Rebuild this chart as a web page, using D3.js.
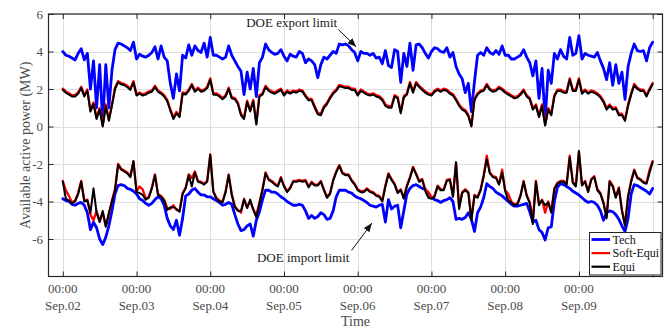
<!DOCTYPE html>
<html>
<head>
<meta charset="utf-8">
<script src="https://cdn.jsdelivr.net/npm/d3@7"></script>
<style>
  html, body { margin: 0; padding: 0; background: #fff; }
  svg { display: block; font-family: "Liberation Serif", "Times New Roman", serif; }
</style>
</head>
<body>
<svg id="chart" width="669" height="329"></svg>
<script>
// Hourly samples, Sep.02 00:00 .. Sep.10 00:00 (193 points per series), MW
const dayLabels = ["Sep.02", "Sep.03", "Sep.04", "Sep.05", "Sep.06", "Sep.07", "Sep.08", "Sep.09", ""];
const timeLabel = "00:00";
const yTicks = [-6, -4, -2, 0, 2, 4, 6];
const seriesNames = ["Tech", "Soft-Equi", "Equi"];
const seriesColors = ["#0000ff", "#ff0000", "#000000"];

// export limits (upper band)
const techExport = [
  4.0,3.8,3.75,3.65,3.55,3.9,4.15,3.55,3.9,2.0,3.5,1.0,3.3,0.2,3.3,1.0,3.0,4.1,4.45,4.4,4.3,4.2,4.05,4.5,
  3.6,3.85,3.75,3.7,3.8,3.95,4.25,3.6,4.3,3.7,3.5,2.3,1.5,2.8,1.9,3.8,3.65,4.35,3.8,4.3,4.05,3.95,4.45,3.7,
  4.75,3.8,3.8,3.7,3.6,3.7,4.3,3.8,3.5,3.2,2.95,1.7,2.9,2.0,3.1,1.6,3.4,3.7,4.4,4.1,3.95,3.85,3.9,4.1,
  3.75,3.5,3.85,3.75,3.7,4.0,3.9,3.4,3.6,3.5,3.3,2.6,3.3,3.7,3.6,3.8,4.0,3.9,4.4,4.35,4.4,4.3,4.1,3.95,
  3.5,4.0,3.9,3.9,3.8,3.9,3.65,3.7,3.35,4.05,3.25,3.15,4.1,4.0,2.35,3.9,3.2,4.45,3.0,4.35,4.4,4.2,3.9,3.65,
  4.0,4.2,4.15,4.0,3.95,4.2,3.7,3.95,3.2,2.8,2.55,1.8,2.3,0.8,2.4,3.8,3.95,3.8,4.2,3.95,3.85,4.05,3.85,4.3,
  3.8,3.8,3.6,3.6,3.7,3.8,4.1,3.7,3.4,2.7,3.5,1.5,3.1,0.3,3.0,2.3,3.9,3.6,4.1,3.75,3.6,4.75,3.8,3.9,
  4.85,3.6,3.9,3.8,3.75,3.7,3.95,3.5,3.1,2.5,3.4,2.2,3.3,2.3,2.9,1.45,3.2,3.9,4.4,4.05,4.0,4.05,3.5,4.2,
  4.5
];
const softExport = [
  2.02,1.87,1.77,1.67,1.67,1.82,2.12,1.67,1.97,0.88,1.28,0.48,0.98,0.06,1.18,0.38,1.18,2.07,2.42,2.32,2.27,2.17,2.02,2.42,
  1.72,1.82,1.72,1.77,1.87,1.92,2.17,1.92,1.82,1.67,1.42,0.92,0.48,0.78,0.58,1.82,1.77,1.97,2.27,1.92,2.07,1.92,1.97,2.12,
  2.57,1.77,1.77,1.67,1.52,1.67,2.07,1.57,1.52,1.27,0.68,0.48,1.38,0.88,1.42,0.18,1.67,1.77,2.17,1.97,1.87,1.82,1.92,2.02,
  1.72,1.92,1.82,1.92,1.87,1.97,1.92,1.67,1.47,1.47,1.08,0.73,0.68,1.08,1.27,1.57,1.82,1.97,2.22,2.17,2.12,2.12,2.02,2.02,
  1.72,1.97,1.87,1.77,1.72,1.77,1.67,1.62,1.47,1.18,1.08,1.08,1.67,1.57,0.78,1.62,1.77,2.37,1.87,2.37,2.17,2.02,1.87,1.77,
  1.72,1.92,2.02,1.92,2.02,1.97,1.82,1.72,1.47,1.18,0.98,0.88,0.63,0.05,1.47,1.77,1.92,1.97,2.27,2.02,1.92,1.97,2.12,2.02,
  1.87,1.77,1.67,1.57,1.62,1.77,1.97,1.67,1.52,0.98,1.18,0.58,1.18,0.1,0.98,0.68,1.67,1.97,1.97,1.87,1.87,2.57,1.97,1.97,
  2.57,1.82,1.97,1.82,1.92,1.87,1.77,1.62,1.38,0.98,1.18,0.98,1.02,0.68,0.68,0.38,1.18,1.77,2.27,2.07,1.97,1.97,1.67,2.02,
  2.32
];
const equiExport = [
  1.95,1.8,1.7,1.6,1.6,1.75,2.05,1.6,1.9,0.8,1.2,0.4,0.9,0.0,1.1,0.3,1.1,2.0,2.35,2.25,2.2,2.1,1.95,2.35,
  1.65,1.75,1.65,1.7,1.8,1.85,2.1,1.85,1.75,1.6,1.35,0.85,0.4,0.7,0.5,1.75,1.7,1.9,2.2,1.85,2.0,1.85,1.9,2.05,
  2.5,1.7,1.7,1.6,1.45,1.6,2.0,1.5,1.45,1.2,0.6,0.4,1.3,0.8,1.35,0.1,1.6,1.7,2.1,1.9,1.8,1.75,1.85,1.95,
  1.65,1.85,1.75,1.85,1.8,1.9,1.85,1.6,1.4,1.4,1.0,0.65,0.6,1.0,1.2,1.5,1.75,1.9,2.15,2.1,2.05,2.05,1.95,1.95,
  1.65,1.9,1.8,1.7,1.65,1.7,1.6,1.55,1.4,1.1,1.0,1.0,1.6,1.5,0.7,1.55,1.7,2.3,1.8,2.3,2.1,1.95,1.8,1.7,
  1.65,1.85,1.95,1.85,1.95,1.9,1.75,1.65,1.4,1.1,0.9,0.8,0.55,0.0,1.4,1.7,1.85,1.9,2.2,1.95,1.85,1.9,2.05,1.95,
  1.8,1.7,1.6,1.5,1.55,1.7,1.9,1.6,1.45,0.9,1.1,0.5,1.1,0.05,0.9,0.6,1.6,1.9,1.9,1.8,1.8,2.5,1.9,1.9,
  2.5,1.75,1.9,1.75,1.85,1.8,1.7,1.55,1.3,0.9,1.1,0.9,0.95,0.6,0.6,0.3,1.1,1.7,2.2,2.0,1.9,1.9,1.6,1.95,
  2.25
];

// import limits (lower band)
const techImport = [
  -3.85,-3.95,-4.0,-4.15,-4.2,-4.1,-4.05,-4.2,-4.6,-5.5,-5.1,-5.4,-6.0,-6.3,-5.9,-5.3,-4.5,-3.6,-3.15,-3.1,-3.15,-3.3,-3.35,-3.45,
  -3.6,-3.85,-3.95,-4.1,-4.2,-4.1,-3.9,-3.75,-3.85,-4.2,-4.9,-5.3,-5.5,-5.0,-5.8,-4.9,-3.7,-3.6,-3.4,-3.3,-3.5,-3.65,-3.65,-3.75,
  -3.75,-3.85,-3.95,-4.05,-4.2,-4.15,-4.05,-4.15,-4.7,-5.2,-5.55,-5.5,-5.3,-5.2,-5.85,-5.0,-4.55,-3.9,-3.4,-3.4,-3.5,-3.5,-3.6,-3.75,
  -3.85,-4.0,-4.1,-4.2,-4.2,-4.15,-4.2,-4.5,-4.9,-4.75,-4.9,-4.8,-4.6,-4.7,-4.95,-4.9,-4.5,-3.75,-3.4,-3.4,-3.4,-3.5,-3.55,-3.7,
  -3.8,-3.85,-3.95,-4.05,-4.2,-4.25,-4.3,-4.2,-4.15,-5.1,-3.9,-4.4,-4.25,-4.2,-5.4,-4.5,-3.6,-3.3,-3.15,-3.1,-3.2,-3.3,-3.35,-3.55,
  -3.8,-3.9,-3.95,-4.05,-3.95,-3.9,-3.8,-4.0,-4.95,-4.9,-4.95,-4.85,-4.6,-4.95,-5.6,-4.6,-4.3,-3.8,-3.05,-3.2,-3.3,-3.5,-3.6,-3.7,
  -3.85,-4.0,-4.15,-4.25,-4.25,-4.2,-4.15,-4.1,-4.55,-5.1,-5.0,-5.5,-5.65,-6.05,-5.4,-5.35,-4.0,-3.25,-3.05,-3.1,-3.2,-3.3,-3.45,-3.55,
  -3.65,-3.8,-3.95,-4.05,-4.0,-4.05,-4.2,-4.5,-5.0,-4.6,-4.5,-4.55,-4.7,-4.95,-5.3,-5.6,-4.9,-3.6,-3.1,-3.15,-3.25,-3.35,-3.45,-3.6,
  -3.3
];
const softImport = [
  -2.9,-3.4,-3.7,-4.05,-3.95,-3.55,-2.9,-3.95,-3.9,-4.7,-5.0,-4.5,-5.05,-4.6,-5.3,-4.7,-3.95,-3.35,-2.0,-2.25,-2.35,-2.45,-2.65,-1.85,
  -3.45,-3.2,-3.35,-3.85,-3.75,-3.25,-2.55,-3.6,-3.7,-3.9,-4.35,-4.4,-4.2,-4.45,-4.5,-3.55,-3.25,-2.55,-2.75,-2.4,-2.9,-2.95,-3.05,-2.9,
  -1.5,-3.45,-3.8,-3.95,-4.0,-3.45,-2.55,-3.6,-4.25,-4.45,-4.6,-3.85,-4.3,-4.0,-4.4,-4.75,-4.05,-3.35,-2.45,-2.8,-2.9,-3.05,-3.15,-2.7,
  -3.15,-3.45,-3.25,-2.9,-2.9,-2.85,-2.9,-2.85,-3.2,-2.95,-3.1,-3.1,-2.9,-3.35,-3.75,-3.55,-2.85,-2.4,-2.05,-2.45,-2.55,-2.55,-2.85,-3.05,
  -3.35,-3.45,-3.45,-3.3,-3.45,-3.5,-3.65,-3.7,-3.95,-3.15,-2.5,-2.8,-3.05,-3.5,-3.35,-3.8,-3.15,-2.7,-2.15,-2.5,-2.9,-2.8,-3.35,-3.5,
  -3.8,-3.7,-3.15,-3.35,-3.35,-2.85,-2.8,-3.7,-1.95,-4.3,-3.5,-3.35,-3.5,-4.9,-3.65,-3.75,-3.35,-2.6,-1.55,-2.45,-2.65,-2.7,-3.05,-2.3,
  -3.4,-3.6,-4.0,-4.15,-4.1,-3.65,-2.9,-3.65,-4.05,-4.95,-2.9,-4.1,-3.9,-4.6,-4.0,-4.55,-3.3,-3.0,-2.9,-2.9,-3.05,-1.55,-2.95,-3.15,
  -1.35,-3.1,-2.9,-3.45,-2.8,-2.65,-3.35,-3.55,-4.05,-4.8,-2.9,-3.15,-3.75,-3.25,-4.45,-5.2,-3.7,-2.9,-2.3,-2.7,-2.8,-2.95,-3.0,-2.3,
  -1.85
];
const equiImport = [
  -2.95,-3.85,-3.95,-4.1,-4.0,-3.6,-2.95,-4.0,-3.95,-4.6,-3.3,-4.6,-5.1,-4.5,-5.35,-4.6,-4.0,-3.4,-2.05,-2.3,-2.4,-2.5,-2.7,-1.85,
  -3.5,-3.55,-3.65,-3.9,-3.8,-3.3,-2.6,-3.65,-3.75,-3.95,-4.45,-4.3,-4.3,-4.4,-4.55,-3.6,-3.3,-2.6,-3.2,-2.45,-2.95,-3.0,-3.1,-2.95,
  -1.5,-3.5,-3.85,-4.0,-4.05,-3.5,-2.6,-3.65,-4.3,-4.5,-4.5,-3.9,-4.35,-3.9,-4.45,-4.85,-4.1,-3.4,-2.5,-2.85,-2.95,-3.1,-3.2,-2.75,
  -3.2,-3.5,-3.3,-2.95,-2.95,-2.9,-2.95,-2.9,-3.25,-3.0,-3.15,-3.15,-2.95,-3.4,-3.8,-3.6,-2.9,-2.45,-2.1,-2.5,-2.6,-2.6,-2.9,-3.1,
  -3.4,-3.5,-3.5,-3.35,-3.5,-3.55,-3.7,-3.75,-4.0,-3.2,-2.55,-2.85,-3.1,-3.55,-3.4,-3.85,-3.2,-2.75,-2.2,-2.55,-2.95,-2.85,-3.45,-3.8,
  -3.85,-3.75,-3.2,-3.4,-3.4,-2.9,-2.85,-3.75,-1.9,-4.4,-3.55,-3.4,-3.55,-5.0,-3.7,-3.8,-3.4,-2.65,-1.75,-2.5,-2.7,-2.75,-3.1,-2.45,
  -3.45,-3.95,-4.05,-4.2,-4.15,-3.7,-2.95,-3.7,-4.1,-5.2,-2.95,-4.2,-3.95,-4.2,-4.05,-4.6,-3.35,-3.05,-2.95,-2.95,-3.1,-1.65,-3.0,-3.2,
  -1.3,-3.15,-2.95,-3.5,-2.85,-2.7,-3.4,-3.6,-4.1,-4.9,-2.95,-3.2,-3.8,-3.3,-4.5,-5.3,-3.75,-2.95,-2.35,-2.75,-2.85,-3.0,-3.05,-2.45,
  -1.9
];

// ---------------------------------------------------------------
const svg = d3.select("#chart");
const plot = { left: 48.5, right: 662.5, top: 14, bottom: 276.5 };

// x in hours since Sep.02 00:00
const x = d3.scaleLinear().domain([-4.65, 195.2]).range([plot.left, plot.right]);
const y = d3.scaleLinear().domain([-8, 6]).range([plot.bottom, plot.top]);
const dayTicks = d3.range(0, 193, 24);

const axisColor = "#262626";
const labelColor = "#4a4a4a";
const gridColor = "#dedede";

// grid
const grid = svg.append("g");
grid.selectAll(".gx").data(dayTicks).join("line")
  .attr("x1", d => Math.round(x(d)) + 0.5).attr("x2", d => Math.round(x(d)) + 0.5)
  .attr("y1", plot.top).attr("y2", plot.bottom)
  .attr("stroke", gridColor).attr("stroke-width", 1);
grid.selectAll(".gy").data(yTicks).join("line")
  .attr("x1", plot.left).attr("x2", plot.right)
  .attr("y1", d => Math.round(y(d)) + 0.5).attr("y2", d => Math.round(y(d)) + 0.5)
  .attr("stroke", gridColor).attr("stroke-width", 1);

// series
svg.append("defs").append("clipPath").attr("id", "plotClip")
  .append("rect").attr("x", plot.left).attr("y", plot.top)
  .attr("width", plot.right - plot.left).attr("height", plot.bottom - plot.top);

const line = d3.line().x((d, i) => x(i)).y(d => y(d));
const seriesData = [
  { name: "Tech",      color: seriesColors[0], width: 2.8, parts: [techExport, techImport] },
  { name: "Soft-Equi", color: seriesColors[1], width: 2.3, parts: [softExport, softImport] },
  { name: "Equi",      color: seriesColors[2], width: 2.0, parts: [equiExport, equiImport] }
];
const lines = svg.append("g").attr("clip-path", "url(#plotClip)");
seriesData.forEach(s => {
  s.parts.forEach(arr => {
    lines.append("path").datum(arr)
      .attr("d", line)
      .attr("fill", "none")
      .attr("stroke", s.color)
      .attr("stroke-width", s.width)
      .attr("stroke-linejoin", "round")
      .attr("stroke-linecap", "round");
  });
});

// axes (ticks pointing inward on all four sides)
const tickLen = 5;
const xBottom = svg.append("g").attr("transform", `translate(0,${plot.bottom})`)
  .call(d3.axisBottom(x).tickValues(dayTicks).tickSizeInner(-tickLen).tickSizeOuter(0).tickFormat(""));
const xTop = svg.append("g").attr("transform", `translate(0,${plot.top})`)
  .call(d3.axisTop(x).tickValues(dayTicks).tickSizeInner(-tickLen).tickSizeOuter(0).tickFormat(""));
const yLeft = svg.append("g").attr("transform", `translate(${plot.left},0)`)
  .call(d3.axisLeft(y).tickValues(yTicks).tickSizeInner(-tickLen).tickSizeOuter(0)
    .tickPadding(5.5).tickFormat(d => String(d)));
const yRight = svg.append("g").attr("transform", `translate(${plot.right},0)`)
  .call(d3.axisRight(y).tickValues(yTicks).tickSizeInner(-tickLen).tickSizeOuter(0).tickFormat(""));

[xBottom, xTop, yLeft, yRight].forEach(g => {
  g.select(".domain").remove();
  g.selectAll(".tick line").attr("stroke", axisColor).attr("stroke-width", 1);
});
yLeft.selectAll(".tick text")
  .attr("fill", labelColor).attr("font-size", 13)
  .attr("font-family", "Liberation Serif, Times New Roman, serif");

// frame
svg.append("rect")
  .attr("x", plot.left).attr("y", plot.top)
  .attr("width", plot.right - plot.left).attr("height", plot.bottom - plot.top)
  .attr("fill", "none").attr("stroke", axisColor).attr("stroke-width", 1.2);

// two-line x tick labels
const xl = svg.append("g").attr("fill", labelColor).attr("font-size", 13).attr("text-anchor", "middle");
dayTicks.forEach((h, i) => {
  if (!dayLabels[i]) return;
  xl.append("text").attr("x", x(h)).attr("y", 293).text(timeLabel);
  xl.append("text").attr("x", x(h)).attr("y", 310).text(dayLabels[i]);
});

// axis titles
svg.append("text")
  .attr("x", (plot.left + plot.right) / 2).attr("y", 326)
  .attr("text-anchor", "middle").attr("font-size", 14).attr("fill", labelColor)
  .text("Time");
svg.append("text")
  .attr("transform", `translate(29.5,${(plot.top + plot.bottom) / 2}) rotate(-90)`)
  .attr("text-anchor", "middle").attr("font-size", 14).attr("fill", labelColor)
  .text("Available active power (MW)");

// annotations
const defs = svg.select("defs");
defs.append("marker").attr("id", "arrowHead")
  .attr("viewBox", "0 0 10 8").attr("refX", 10).attr("refY", 4)
  .attr("markerUnits", "userSpaceOnUse").attr("markerWidth", 9).attr("markerHeight", 7)
  .attr("orient", "auto")
  .append("path").attr("d", "M0,0 L10,4 L0,8 Z").attr("fill", "#111");

const notes = [
  { text: "DOE export limit", tx: 59.7, ty: 5.3, from: [89.7, 5.17], to: [95.5, 4.25] },
  { text: "DOE import limit", tx: 63.2, ty: -7.23, from: [94.0, -6.61], to: [100.6, -5.15] }
];
notes.forEach(n => {
  svg.append("text").attr("x", x(n.tx)).attr("y", y(n.ty))
    .attr("font-size", 13).attr("fill", "#1a1a1a").text(n.text);
  svg.append("line")
    .attr("x1", x(n.from[0])).attr("y1", y(n.from[1]))
    .attr("x2", x(n.to[0])).attr("y2", y(n.to[1]))
    .attr("stroke", "#111").attr("stroke-width", 1)
    .attr("marker-end", "url(#arrowHead)");
});

// legend
const lg = svg.append("g");
lg.append("rect").attr("x", 589.5).attr("y", 232.5).attr("width", 71.5).attr("height", 42.5)
  .attr("fill", "#fff").attr("stroke", axisColor).attr("stroke-width", 1);
seriesNames.forEach((name, i) => {
  const cy = 239.5 + i * 13.6;
  lg.append("line").attr("x1", 591.5).attr("x2", 610).attr("y1", cy).attr("y2", cy)
    .attr("stroke", seriesColors[i]).attr("stroke-width", i === 0 ? 2.8 : 2.2);
  lg.append("text").attr("x", 612.5).attr("y", cy).attr("dy", "0.35em")
    .attr("font-size", 12).attr("fill", "#111").text(name);
});
</script>
</body>
</html>
